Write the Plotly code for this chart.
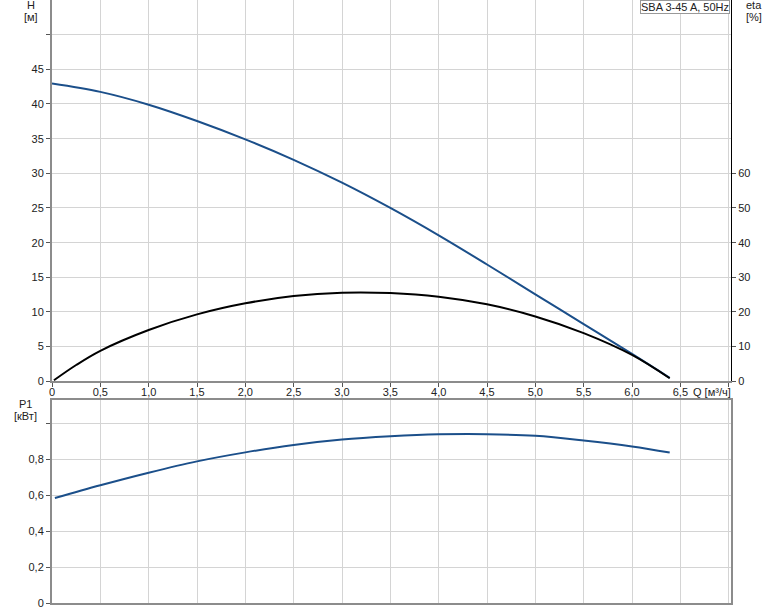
import plotly.graph_objects as go

# ---- data ----
q_h = [0.0, 0.5, 1.0, 1.5, 2.0, 2.5, 3.0, 3.5, 4.0, 4.5, 5.0, 5.5, 6.0, 6.39]
h_vals = [42.95, 41.75, 39.9, 37.55, 34.9, 31.95, 28.65, 25.0, 21.05, 16.85, 12.55, 8.25, 3.95, 0.5]

q_eta = [0.02, 0.25, 0.5, 1.0, 1.5, 2.0, 2.5, 3.0, 3.5, 4.0, 4.5, 5.0, 5.5, 6.0, 6.39]
eta_vals = [0.3, 4.7, 8.8, 14.8, 19.3, 22.5, 24.6, 25.55, 25.45, 24.4, 22.2, 18.7, 13.9, 7.6, 0.87]

q_p1 = [0.03, 0.5, 1.0, 1.5, 2.0, 2.5, 3.0, 3.5, 4.0, 4.5, 5.0, 5.5, 6.0, 6.39]
p1_vals = [0.583, 0.654, 0.724, 0.787, 0.837, 0.878, 0.908, 0.926, 0.937, 0.938, 0.929, 0.903, 0.870, 0.836]

x_ticks = [0, 0.5, 1.0, 1.5, 2.0, 2.5, 3.0, 3.5, 4.0, 4.5, 5.0, 5.5, 6.0, 6.5, 7.0]
x_labels = ["0", "0,5", "1,0", "1,5", "2,0", "2,5", "3,0", "3,5", "4,0", "4,5", "5,0", "5,5", "6,0", "6,5", ""]
h_ticks = [0, 5, 10, 15, 20, 25, 30, 35, 40, 45, 50]
h_labels = ["0", "5", "10", "15", "20", "25", "30", "35", "40", "45", ""]
eta_ticks = [0, 10, 20, 30, 40, 50, 60]
eta_labels = ["0", "10", "20", "30", "40", "50", "60"]
p_ticks = [0, 0.2, 0.4, 0.6, 0.8, 1.0]
p_labels = ["0", "0,2", "0,4", "0,6", "0,8", ""]

BLUE = "#1b4f8a"
GRID = "#d4d4d4"
AXIS = "#8c8c8c"
FONT = dict(family="Liberation Sans, Arial, sans-serif", size=11, color="#222222")

W, H = 774, 611
ML, MR, MT, MB = 52, 43, 0, 8
PW = W - ML - MR
PH = H - MT - MB


def px(xp):
    return (xp - ML) / PW


def py(yp):
    return 1 - (yp - MT) / PH


fig = go.Figure()
fig.add_trace(go.Scatter(x=q_h, y=h_vals, mode="lines", line=dict(color=BLUE, width=2, shape="spline"),
                         xaxis="x", yaxis="y", showlegend=False, hoverinfo="skip"))
fig.add_trace(go.Scatter(x=q_eta, y=eta_vals, mode="lines", line=dict(color="#000000", width=2, shape="spline"),
                         xaxis="x", yaxis="y2", showlegend=False, hoverinfo="skip"))
fig.add_trace(go.Scatter(x=q_p1, y=p1_vals, mode="lines", line=dict(color=BLUE, width=2, shape="spline"),
                         xaxis="x2", yaxis="y3", showlegend=False, hoverinfo="skip"))

x_range = [0, 7.024]
top_dom = [py(381.3), 1]
bot_dom = [0, py(400)]

common_x = dict(range=x_range, tickvals=x_ticks, showgrid=True, gridcolor=GRID, gridwidth=1,
                zeroline=False, showline=True, linecolor=AXIS, linewidth=2, automargin=False,
                ticklen=4, tickcolor="#555555", tickfont=FONT)

fig.update_layout(
    width=W, height=H,
    margin=dict(l=ML, r=MR, t=MT, b=MB, autoexpand=False),
    paper_bgcolor="white", plot_bgcolor="white",
    font=FONT,
    xaxis=dict(**common_x, domain=[0, 1], anchor="y", ticktext=x_labels, showticklabels=True,
               ticks="outside", ticklabelstandoff=-5),
    xaxis2=dict(**common_x, domain=[0, 1], anchor="y3", ticktext=x_labels, showticklabels=False,
                ticks="", mirror=True),
    yaxis=dict(domain=top_dom, range=[0, 55], tickvals=h_ticks, ticktext=h_labels, showgrid=True,
               gridcolor=GRID, zeroline=False, showline=True, linecolor=AXIS, linewidth=2, automargin=False,
               ticks="outside", ticklen=4, tickcolor="#555555", tickfont=FONT, anchor="x"),
    yaxis2=dict(domain=top_dom, range=[0, 110], tickvals=eta_ticks, ticktext=eta_labels, overlaying="y",
                side="right", anchor="x", showgrid=False, zeroline=False, showline=True, automargin=False,
                linecolor="#000000", linewidth=1, ticks="outside", ticklen=4, tickcolor="#555555",
                tickfont=FONT),
    yaxis3=dict(domain=bot_dom, range=[0, 1.128], tickvals=p_ticks, ticktext=p_labels, showgrid=True,
                gridcolor=GRID, zeroline=False, showline=True, mirror=True, linecolor=AXIS, linewidth=2,
                automargin=False,
                ticks="outside", ticklen=4, tickcolor="#555555", tickfont=FONT, anchor="x2"),
)

annots = [
    dict(text="H", x=px(31), y=py(4.7)),
    dict(text="[м]", x=px(31), y=py(16.7)),
    dict(text="eta", x=px(754), y=py(4.7)),
    dict(text="[%]", x=px(754), y=py(16.7)),
    dict(text="P1", x=px(25), y=py(404.3)),
    dict(text="[кВт]", x=px(25), y=py(416)),
]
for a in annots:
    fig.add_annotation(xref="paper", yref="paper", showarrow=False, xanchor="center", yanchor="middle",
                       font=FONT, **a)

fig.add_annotation(text="Q [м³/ч]", xref="paper", yref="paper", x=px(691), y=py(392),
                   xanchor="left", yanchor="middle", showarrow=False, font=FONT)

fig.add_annotation(text="SBA 3-45 A, 50Hz", xref="paper", yref="paper", x=px(729.5), y=1,
                   xanchor="right", yanchor="top", showarrow=False, font=FONT,
                   bgcolor="white", bordercolor="#999999", borderwidth=1, borderpad=0)

fig.write_html("out.html", config={"displayModeBar": False},
               post_script="document.body.style.margin='0';document.body.style.overflow='hidden';")
